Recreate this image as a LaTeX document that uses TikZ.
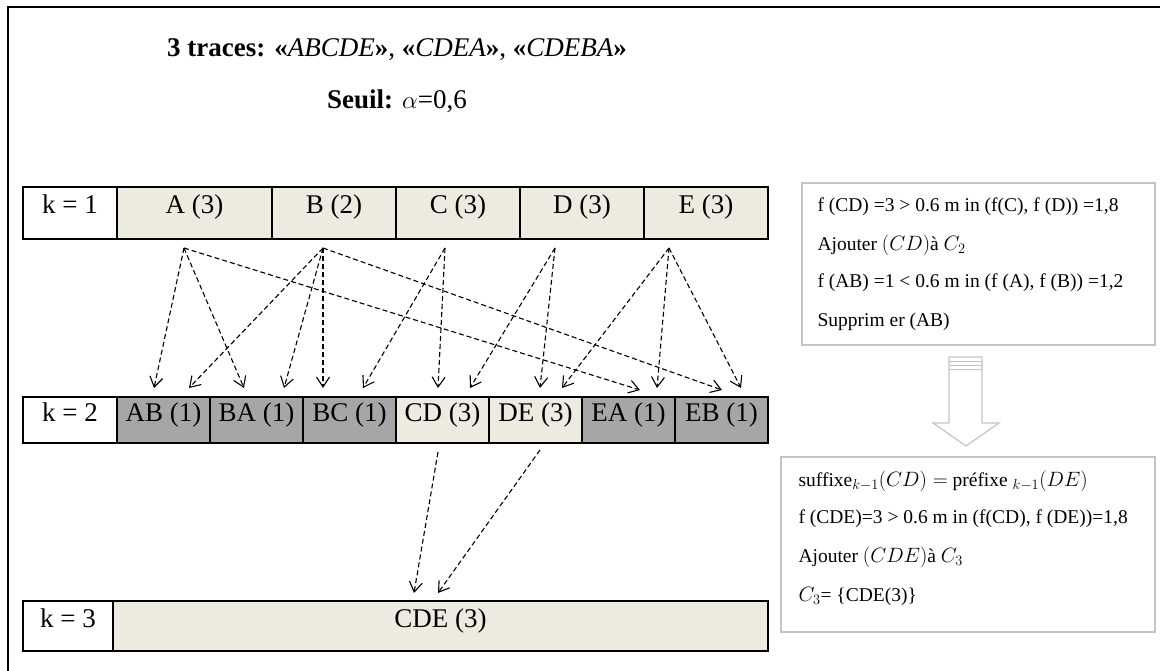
\documentclass[tikz,border=0pt]{standalone}
\usepackage{fontspec}
\setmainfont{Liberation Serif}
\usetikzlibrary{arrows.meta}

\definecolor{itemfill}{HTML}{EDEAE0}
\definecolor{prunefill}{HTML}{A6A6A6}
\definecolor{notegray}{HTML}{C4C4C4}

\begin{document}
\begin{tikzpicture}[x=1pt, y=-1pt,
    cell/.style={draw=black, line width=1.3pt, inner sep=0pt, fill=itemfill,
      text height=18pt, text depth=16pt, font=\fontsize{27}{30}\selectfont},
    kcell/.style={cell, fill=white},
    pruned/.style={cell, fill=prunefill},
    flow/.style={line width=1.1pt, dash pattern=on 5pt off 3pt,
      -{Straight Barb[length=10pt, width=13pt]}},
    note/.style={draw=notegray, line width=1.5pt, fill=white},
    line/.style={anchor=west, font=\fontsize{19.5}{22}\selectfont}]
  \useasboundingbox (0,0) rectangle (1160,671);

  % frame
  \draw[line width=2.5pt] (1160,7) -- (8,7) -- (8,671);

  % heading
  \node (traces) at (397,50) {\fontsize{27}{30}\selectfont
    \textbf{3 traces: «}\textit{ABCDE}\textbf{»}, \textbf{«}\textit{CDEA}\textbf{»},
    \textbf{«}\textit{CDEBA}\textbf{»}};
  \node (seuil) at (397,101) {\fontsize{27}{30}\selectfont \textbf{Seuil:} $\alpha$=0,6};

  % k = 1
  \node[kcell, minimum width=94pt, minimum height=52pt] (k1) at (70,213) {k = 1};
  \node[cell, minimum width=155pt, minimum height=52pt] (A) at (194.5,213) {A (3)};
  \node[cell, minimum width=124pt, minimum height=52pt] (B) at (334,213) {B (2)};
  \node[cell, minimum width=124pt, minimum height=52pt] (C) at (458,213) {C (3)};
  \node[cell, minimum width=124pt, minimum height=52pt] (D) at (582,213) {D (3)};
  \node[cell, minimum width=124pt, minimum height=52pt] (E) at (706,213) {E (3)};

  % k = 2
  \node[kcell, minimum width=94pt, minimum height=46pt] (k2) at (70,420) {k = 2};
  \node[pruned, minimum width=93pt, minimum height=46pt] (AB) at (163.5,420) {AB (1)};
  \node[pruned, minimum width=93pt, minimum height=46pt] (BA) at (256.5,420) {BA (1)};
  \node[pruned, minimum width=93pt, minimum height=46pt] (BC) at (349.5,420) {BC (1)};
  \node[cell, minimum width=93pt, minimum height=46pt] (CD) at (442.5,420) {CD (3)};
  \node[cell, minimum width=93pt, minimum height=46pt] (DE) at (535.5,420) {DE (3)};
  \node[pruned, minimum width=93pt, minimum height=46pt] (EA) at (628.5,420) {EA (1)};
  \node[pruned, minimum width=93pt, minimum height=46pt] (EB) at (721.5,420) {EB (1)};

  % k = 3
  \node[kcell, minimum width=90pt, minimum height=50pt] (k3) at (68,626) {k = 3};
  \node[cell, minimum width=655pt, minimum height=50pt] (CDE) at (440.5,626) {CDE (3)};

  % arrow ends
  \coordinate (sA) at (184,248);
  \coordinate (sB) at (323,248);
  \coordinate (sC) at (445,248);
  \coordinate (sD) at (555,248);
  \coordinate (sE) at (669,248);
  \coordinate (sCD) at (438,452);
  \coordinate (sDE) at (540,450);
  \coordinate (tAB1) at (154,388);
  \coordinate (tAB2) at (189,388);
  \coordinate (tBA1) at (244,388);
  \coordinate (tBA2) at (284,388);
  \coordinate (tBC1) at (323,388);
  \coordinate (tBC2) at (363,388);
  \coordinate (tCD1) at (438,388);
  \coordinate (tCD2) at (470,388);
  \coordinate (tDE1) at (540,388);
  \coordinate (tDE2) at (562,388);
  \coordinate (tEA1) at (640,390);
  \coordinate (tEA2) at (657,388);
  \coordinate (tEB1) at (722,390);
  \coordinate (tEB2) at (741,388);
  \coordinate (tCDE1) at (414,593);
  \coordinate (tCDE2) at (438,593);

  \draw[flow] (sA) -- (tAB1); % A-AB
  \draw[flow] (sA) -- (tBA1); % A-BA
  \draw[flow] (sA) -- (tEA1); % A-EA
  \draw[flow] (sB) -- (tAB2); % B-AB
  \draw[flow] (sB) -- (tBA2); % B-BA
  \draw[flow] (sB) -- (tBC1); % B-BC
  \draw[flow] (sB) -- (tEB1); % B-EB
  \draw[flow] (sC) -- (tBC2); % C-BC
  \draw[flow] (sC) -- (tCD1); % C-CD
  \draw[flow] (sD) -- (tCD2); % D-CD
  \draw[flow] (sD) -- (tDE1); % D-DE
  \draw[flow] (sE) -- (tDE2); % E-DE
  \draw[flow] (sE) -- (tEA2); % E-EA
  \draw[flow] (sE) -- (tEB2); % E-EB
  \draw[flow] (sCD) -- (tCDE1); % CD-CDE
  \draw[flow] (sDE) -- (tCDE2); % DE-CDE

  % pruning of C_2
  \node[note, minimum width=353pt, minimum height=162pt] (note2) at (978.5,264) {};
  \node[line] (n21) at (814,207) {f (CD) =3 > 0.6 m in (f(C), f (D)) =1,8};
  \node[line] (n22) at (814,245) {Ajouter $(CD)$à $C_2$};
  \node[line] (n23) at (814,283) {f (AB) =1 < 0.6 m in (f (A), f (B)) =1,2};
  \node[line] (n24) at (814,322) {Supprim er (AB)};

  % block arrow
  \draw[notegray, line width=1.2pt, fill=white]
    (949,357) -- (982,357) -- (982,423) -- (999,423) -- (966,446)
    -- (933,423) -- (949,423) -- cycle;
  \draw[notegray, line width=1pt] (949,361) -- (982,361)
    (949,365) -- (982,365) (949,369) -- (982,369);

  % join to C_3
  \node[note, minimum width=374pt, minimum height=175pt] (note3) at (968,544.5) {};
  \node[line] (n31) at (795,481) {suffixe$_{k-1}(CD) = $ préfixe $_{k-1}(DE)$};
  \node[line] (n32) at (795,519) {f (CDE)=3 > 0.6 m in (f(CD), f (DE))=1,8};
  \node[line] (n33) at (795,557) {Ajouter $(CDE)$à $C_3$};
  \node[line] (n34) at (795,596) {$C_3$= \{CDE(3)\}};
\end{tikzpicture}
\end{document}
